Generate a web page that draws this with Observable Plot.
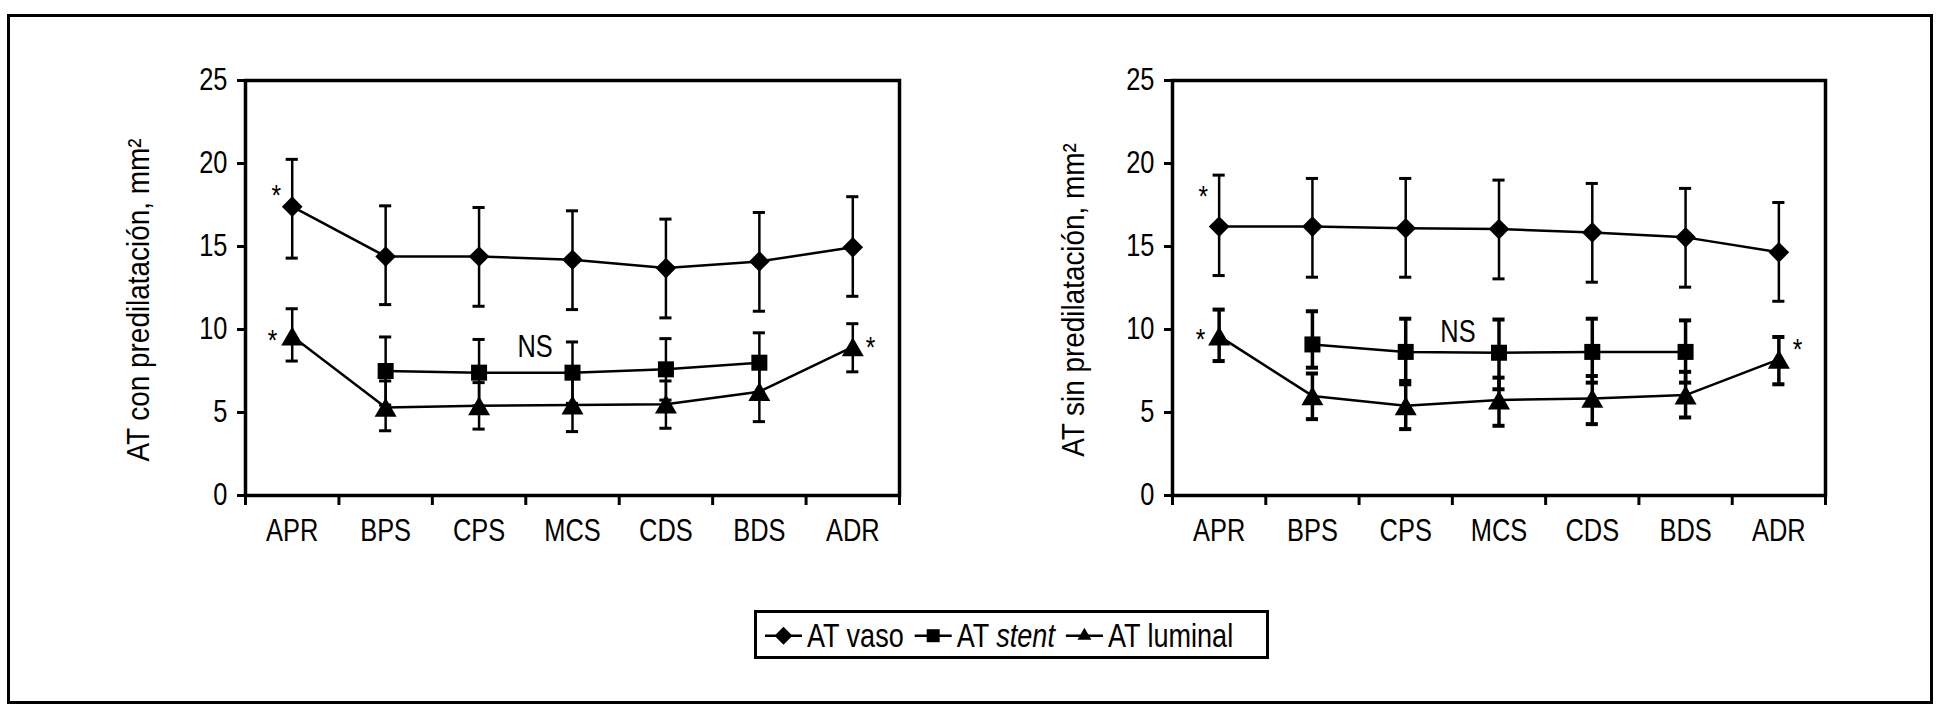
<!DOCTYPE html>
<html>
<head>
<meta charset="utf-8">
<script src="https://cdn.jsdelivr.net/npm/d3@7"></script>
<script src="https://cdn.jsdelivr.net/npm/@observablehq/plot@0.6"></script>
<style>
  html, body { margin: 0; padding: 0; background: #fff; }
  #page { position: relative; width: 1945px; height: 715px; overflow: hidden; background: #fff; }
  #outer { position: absolute; left: 7px; top: 14px; width: 1926px; height: 690px; border: 3px solid #000; box-sizing: border-box; }
  .panel { position: absolute; top: 0; }
  #left { left: 0; }
  #right { left: 972px; }
  #legend { position: absolute; left: 754px; top: 610px; width: 515px; height: 49px; border: 3px solid #000; box-sizing: border-box; }
  #legend svg { display: block; }
</style>
</head>
<body>
<div id="page">
  <div id="outer"></div>
  <div id="left" class="panel"></div>
  <div id="right" class="panel"></div>
  <div id="legend"></div>
</div>
<script>
// ---------- data ----------
const categories = ["APR", "BPS", "CPS", "MCS", "CDS", "BDS", "ADR"];
const yTicks = [0, 5, 10, 15, 20, 25];
const seriesNames = ["AT vaso", "AT stent", "AT luminal"];
const seriesItalic = [null, "stent", null];

// Left panel: AT con predilatación
const conVasoMean    = [17.4, 14.4, 14.4, 14.2, 13.7, 14.1, 14.95];
const conVasoLow     = [14.3, 11.5, 11.4, 11.2, 10.7, 11.1, 12.0];
const conVasoHigh    = [20.25, 17.45, 17.35, 17.15, 16.65, 17.05, 18.0];
const conStentMean   = [null, 7.5, 7.4, 7.4, 7.6, 8.0, null];
const conStentLow    = [null, 5.45, 5.4, 5.55, 5.75, 6.2, null];
const conStentHigh   = [null, 9.55, 9.4, 9.25, 9.45, 9.8, null];
const conLumMean     = [9.6, 5.3, 5.4, 5.45, 5.5, 6.25, 8.95];
const conLumLow      = [8.1, 3.9, 4.0, 3.85, 4.05, 4.45, 7.45];
const conLumHigh     = [11.25, 6.9, 6.8, 7.05, 6.9, 8.05, 10.35];
const conStars       = [{x: -0.17, y: 18.8}, {x: -0.21, y: 10.05}, {x: 6.19, y: 9.6}];
const conNS          = [{x: 2.6, y: 9.65, text: "NS"}];
const conLabel       = "AT con predilatación, mm²";

// Right panel: AT sin predilatación
const sinVasoMean    = [16.2, 16.2, 16.1, 16.05, 15.85, 15.55, 14.65];
const sinVasoLow     = [13.25, 13.15, 13.15, 13.05, 12.85, 12.55, 11.7];
const sinVasoHigh    = [19.3, 19.1, 19.1, 19.0, 18.8, 18.5, 17.65];
const sinStentMean   = [null, 9.1, 8.65, 8.6, 8.65, 8.65, null];
const sinStentLow    = [null, 7.7, 6.7, 6.4, 6.8, 6.8, null];
const sinStentHigh   = [null, 11.1, 10.65, 10.6, 10.65, 10.55, null];
const sinLumMean     = [9.6, 6.0, 5.4, 5.75, 5.85, 6.05, 8.2];
const sinLumLow      = [8.1, 4.6, 4.0, 4.2, 4.3, 4.7, 6.7];
const sinLumHigh     = [11.2, 7.35, 6.9, 7.1, 7.2, 7.45, 9.55];
const sinStars       = [{x: -0.17, y: 18.7}, {x: -0.2, y: 10.1}, {x: 6.2, y: 9.5}];
const sinNS          = [{x: 2.56, y: 10.6, text: "NS"}];
const sinLabel       = "AT sin predilatación, mm²";

// ---------- styling ----------
const fontFam = "'Liberation Sans', Arial, Helvetica, sans-serif";
const narrow = 0.82;      // horizontal squeeze to mimic a condensed face
const labelSqueeze = 0.9;
const symbols = ["diamond2", "square2", "triangle2"];
const symbolR = [9.3, 10.2, 10.5];
const symbolDy = [0, 0, 3];

function rows(mean, low, high) {
  return mean.map((m, i) => ({i, mean: m, low: low[i], high: high[i]})).filter(d => d.mean != null);
}

function squeeze(svg) {
  d3.select(svg).selectAll("text").each(function() {
    const isLabel = this.classList.contains("ylabel") || (this.parentNode && this.parentNode.classList && this.parentNode.classList.contains("ylabel"));
    const f = isLabel ? labelSqueeze : narrow;
    const t = this.getAttribute("transform");
    if (t) {
      this.setAttribute("transform", t + ` scale(${f},1)`);
    } else {
      const x = +this.getAttribute("x") || 0, y = +this.getAttribute("y") || 0;
      this.setAttribute("transform", `translate(${x},${y}) scale(${f},1)`);
      this.removeAttribute("x"); this.removeAttribute("y");
    }
  });
}

function panel(series, stars, ns, label, opts) {
  const capHalf = 0.065;
  const marks = [];
  series.forEach((data, s) => {
    marks.push(Plot.ruleX(data, {x: "i", y1: "low", y2: "high", stroke: "#000", strokeWidth: opts.errW[s]}));
    marks.push(Plot.ruleY(data, {y: "high", x1: d => d.i - capHalf, x2: d => d.i + capHalf, stroke: "#000", strokeWidth: opts.errW[s] + 0.5}));
    marks.push(Plot.ruleY(data, {y: "low", x1: d => d.i - capHalf, x2: d => d.i + capHalf, stroke: "#000", strokeWidth: opts.errW[s] + 0.5}));
  });
  series.forEach((data) => {
    marks.push(Plot.line(data, {x: "i", y: "mean", stroke: "#000", strokeWidth: 2.5}));
  });
  series.forEach((data, s) => {
    marks.push(Plot.dot(data, {x: "i", y: "mean", symbol: () => symbols[s], r: symbolR[s], fill: "#000", stroke: "none", dy: symbolDy[s]}));
  });
  marks.push(Plot.text(stars, {x: "x", y: "y", text: () => "*", lineAnchor: "top", textAnchor: "middle", fontSize: 30, fill: "#000"}));
  marks.push(Plot.text(ns, {x: "x", y: "y", text: "text", lineAnchor: "top", textAnchor: "middle", fontSize: 31, fill: "#000"}));
  marks.push(Plot.text([label], {frameAnchor: "left", text: d => d, rotate: -90, textAnchor: "middle", lineAnchor: "bottom",
    dx: opts.labelDx, dy: 12, fontSize: 31, fill: "#000", className: "ylabel"}));
  marks.push(Plot.axisY({ticks: yTicks, tickSize: 8, tickPadding: 10, strokeWidth: 3, label: null, fontSize: 31}));
  marks.push(Plot.axisX({ticks: d3.range(-0.5, 7, 1), tickSize: 10, strokeWidth: 3, tickFormat: () => "", label: null}));
  marks.push(Plot.axisX({ticks: d3.range(categories.length), tickSize: 0, tickPadding: 23, tickFormat: i => categories[i], label: null, fontSize: 31}));
  marks.push(Plot.frame({stroke: "#000", strokeWidth: 3.5}));
  return Plot.plot({
    width: 972,
    height: 570,
    marginTop: 80,
    marginBottom: 75,
    marginLeft: opts.marginLeft,
    marginRight: opts.marginRight,
    x: {domain: [-0.5, categories.length - 0.5]},
    y: {domain: [0, 25]},
    style: {fontFamily: fontFam, fontSize: "31px", color: "#000", background: "transparent", overflow: "visible"},
    marks
  });
}

const left = panel(
  [rows(conVasoMean, conVasoLow, conVasoHigh), rows(conStentMean, conStentLow, conStentHigh), rows(conLumMean, conLumLow, conLumHigh)],
  conStars, conNS, conLabel,
  {marginLeft: 245, marginRight: 73, labelDx: -97, errW: [2.5, 2.5, 2.5]}
);
const right = panel(
  [rows(sinVasoMean, sinVasoLow, sinVasoHigh), rows(sinStentMean, sinStentLow, sinStentHigh), rows(sinLumMean, sinLumLow, sinLumHigh)],
  sinStars, sinNS, sinLabel,
  {marginLeft: 200, marginRight: 119, labelDx: -89, errW: [2.5, 3.5, 3.5]}
);
document.getElementById("left").appendChild(left);
document.getElementById("right").appendChild(right);
squeeze(left);
squeeze(right);

// ---------- legend ----------
const legendSym = [d3.symbolDiamond2, d3.symbolSquare2, d3.symbolTriangle2];
const legendSize = [206, 215, 140];
const lsvg = d3.select("#legend").append("svg").attr("width", 509).attr("height", 43)
  .style("font-family", fontFam).style("font-size", "33px");
let cx = 8;
const glyphW = 37, glyphGap = 5, itemGap = 11, midY = 22.7, baseY = 34;
seriesNames.forEach((name, s) => {
  lsvg.append("line").attr("x1", cx).attr("x2", cx + glyphW).attr("y1", midY).attr("y2", midY).attr("stroke", "#000").attr("stroke-width", 2.5);
  lsvg.append("path").attr("transform", `translate(${cx + glyphW / 2},${midY})`).attr("d", d3.symbol(legendSym[s], legendSize[s])()).attr("fill", "#000");
  cx += glyphW + glyphGap;
  const txt = lsvg.append("text").attr("transform", `translate(${cx},${baseY}) scale(${narrow},1)`).attr("fill", "#000");
  const it = seriesItalic[s];
  if (it) {
    const parts = name.split(it);
    txt.append("tspan").text(parts[0]);
    txt.append("tspan").attr("font-style", "italic").text(it);
    if (parts[1]) txt.append("tspan").text(parts[1]);
  } else {
    txt.text(name);
  }
  cx += txt.node().getComputedTextLength() * narrow + itemGap;
});
</script>
</body>
</html>
